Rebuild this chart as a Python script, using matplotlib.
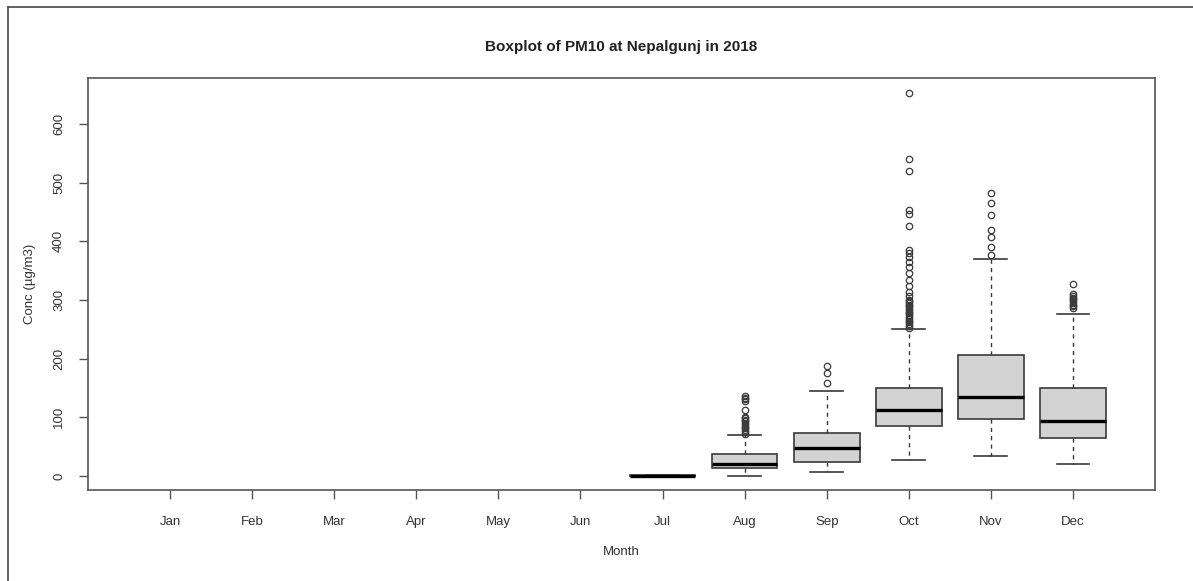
import matplotlib
matplotlib.use("Agg")
import matplotlib.pyplot as plt
from matplotlib.lines import Line2D

plt.rcParams['font.family'] = ['Liberation Sans', 'DejaVu Sans']

# month labels, all 12 ticks shown even though Jan-Jun have no data
months = ["Jan", "Feb", "Mar", "Apr", "May", "Jun",
          "Jul", "Aug", "Sep", "Oct", "Nov", "Dec"]

# box statistics (Jul..Dec)
box_months = ["Jul", "Aug", "Sep", "Oct", "Nov", "Dec"]
q1 = [0, 13, 24, 85, 97, 65]
med = [0.5, 20, 47, 113, 134, 93]
q3 = [1, 37, 74, 150, 206, 150]
whislo = [0, 0, 6, 28, 34, 20]
whishi = [1.5, 70, 144, 250, 370, 276]
fliers = [
    [],
    [72, 75, 78, 81, 84, 87, 90, 93, 96, 99, 101, 112, 128, 131, 133, 136],
    [158, 175, 188],
    [253, 256, 259, 262, 265, 268, 271, 274, 277, 280, 283, 286, 289, 292,
     295, 298, 300, 306, 314, 323, 334, 346, 357, 365, 373, 380, 386, 426,
     446, 453, 520, 540, 652],
    [377, 391, 408, 420, 444, 465, 482],
    [286, 289, 292, 295, 298, 301, 304, 307, 310, 327],
]

stats = []
for i in range(len(box_months)):
    stats.append(dict(q1=q1[i], med=med[i], q3=q3[i], whislo=whislo[i],
                      whishi=whishi[i], fliers=fliers[i], label=box_months[i]))
positions = [months.index(m) + 1 for m in box_months]

fig = plt.figure(figsize=(11.93, 5.81), dpi=100)
ax = fig.add_axes([88 / 1193, 1 - 490 / 581, (1155 - 88) / 1193, (490 - 77.5) / 581])

edge = "#3a3a3a"
ax.bxp(stats, positions=positions, widths=0.8, patch_artist=True,
       boxprops=dict(facecolor="#d3d3d3", edgecolor=edge, linewidth=1.2),
       medianprops=dict(color="black", linewidth=2.4),
       whiskerprops=dict(color=edge, linewidth=1, linestyle=(0, (3, 3))),
       capprops=dict(color=edge, linewidth=1.2),
       capwidths=0.4,
       flierprops=dict(marker="o", markerfacecolor="none", markeredgecolor=edge,
                       markersize=4.6, markeredgewidth=0.9))

ax.set_xlim(0, 13)
ax.set_ylim(-23.9, 679.2)
ax.set_xticks(range(1, 13))
ax.set_xticklabels(months)
ax.set_yticks([0, 100, 200, 300, 400, 500, 600])
ax.set_yticklabels(["0", "100", "200", "300", "400", "500", "600"],
                   rotation=90, va="center")

for s in ax.spines.values():
    s.set_color("#555555")
    s.set_linewidth(1.2)
ax.tick_params(direction="out", length=6.5, width=1, colors="#555555",
               labelcolor="#333333", labelsize=9.5)
ax.tick_params(axis="x", pad=12)
ax.tick_params(axis="y", pad=10)

ax.set_xlabel("Month", fontsize=9.5, color="#333333", labelpad=13)
ax.set_ylabel("Conc (µg/m3)", fontsize=9.5, color="#333333", labelpad=12)
ax.set_title("Boxplot of PM10 at Nepalgunj in 2018", fontsize=11,
             fontweight="bold", color="#222222", pad=19)

# outer frame of the exported image (only top and left edges visible)
fig.add_artist(Line2D([8 / 1193, 1.0], [1 - 7 / 581, 1 - 7 / 581],
                      transform=fig.transFigure, color="#555555", linewidth=1.3))
fig.add_artist(Line2D([8 / 1193, 8 / 1193], [1 - 7 / 581, 0.0],
                      transform=fig.transFigure, color="#555555", linewidth=1.3))

fig.savefig("out.png", dpi=100)
